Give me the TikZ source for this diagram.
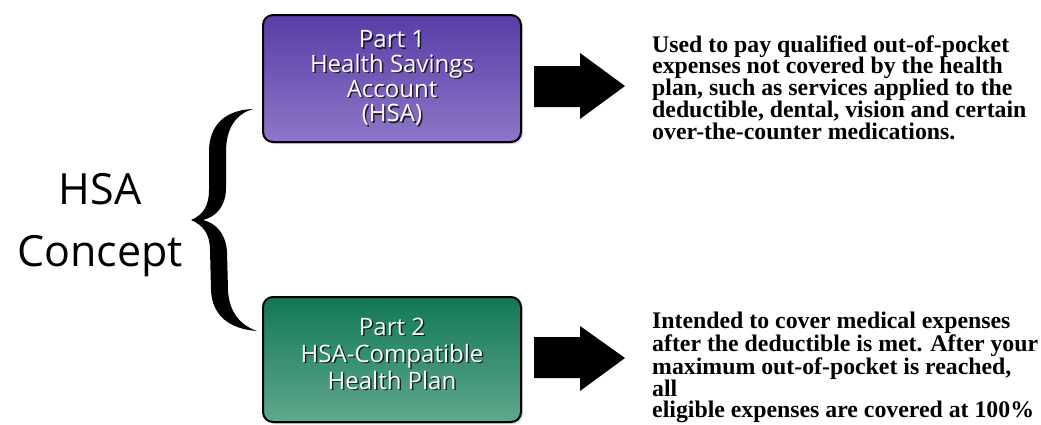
\documentclass[tikz,border=0pt]{standalone}
\usepackage{fontspec}
\setmainfont{Liberation Serif}
\newfontfamily\labelfont{Open Sans}
\usetikzlibrary{shadows}
\definecolor{hsatop}{RGB}{88,62,166}
\definecolor{hsabot}{RGB}{142,118,200}
\definecolor{plantop}{RGB}{18,120,88}
\definecolor{planbot}{RGB}{96,168,140}
\begin{document}
\begin{tikzpicture}[x=1pt,y=-1pt,
  partbox/.style={draw=black, line width=2pt, rounded corners=10pt,
    inner sep=0pt, minimum width=258pt,
    drop shadow={opacity=0.35, shadow xshift=2pt, shadow yshift=-2pt}},
  parttext/.style={font=\labelfont\fontsize{24}{#1}\selectfont,
    text=white, align=center, inner sep=0pt},
  partshade/.style={font=\labelfont\fontsize{24}{#1}\selectfont,
    text=black, opacity=0.75, align=center, inner sep=0pt},
  desc/.style={font=\bfseries\fontsize{23.8}{21.7}\selectfont,
    align=left, anchor=north west, inner sep=0pt},
  blockarrow/.style={fill=black}
]
\useasboundingbox (0,0) rectangle (1041,424);

% the two parts
\node[partbox, top color=hsatop, bottom color=hsabot, minimum height=127pt]
  (box1) at (392,78.5) {};
\node[partbox, top color=plantop, bottom color=planbot, minimum height=125pt]
  (box2) at (392,359.5) {};

% box captions with a soft dark shadow
\node[partshade=24.7] (part1s) at (393.5,79.5) {Part 1\\Health Savings\\Account\\(HSA)};
\node[parttext=24.7] (part1) at (392,78) {Part 1\\Health Savings\\Account\\(HSA)};
\node[partshade=27] (part2s) at (393.5,355) {Part 2\\HSA-Compatible\\Health Plan};
\node[parttext=27] (part2) at (392,353.5) {Part 2\\HSA-Compatible\\Health Plan};

% concept label and curly brace
\node[font=\labelfont\fontsize{43}{62}\selectfont, align=center, inner sep=0pt]
  (concept) at (100,225.5) {HSA\\Concept};
\fill[black] (253,109) .. controls (226,110) and (209,124) .. (209,152)
  -- (209,190) .. controls (209,206) and (203,215) .. (191,220)
  .. controls (203,225) and (210,234) .. (210,250)
  -- (211,290) .. controls (212,316) and (230,329) .. (257,331)
  .. controls (240,325) and (229,312) .. (228,290)
  -- (227,252) .. controls (226,234) and (216,223) .. (203,220)
  .. controls (216,217) and (226,206) .. (226,188)
  -- (226,152) .. controls (226,128) and (236,114) .. (253,109) -- cycle;

% block arrows
\fill[blockarrow] (534,66) -- (580,66) -- (580,53)
  -- (625,86) -- (580,119) -- (580,107) -- (534,107) -- cycle;
\fill[blockarrow] (534,337) -- (580,337) -- (580,326)
  -- (625,358) -- (580,391) -- (580,378) -- (534,378) -- cycle;

% descriptions
\node[desc] (desc1) at (652,35.3) {Used to pay qualified out-of-pocket\\
  expenses not covered by the health\\
  plan, such as services applied to the\\
  deductible, dental, vision and certain\\
  over-the-counter medications.};
\node[desc] (desc2) at (652,312) {Intended to cover medical expenses\\
  after the deductible is met. After your\\
  maximum out-of-pocket is reached,\\
  all\\
  eligible expenses are covered at 100\%};
\end{tikzpicture}
\end{document}
